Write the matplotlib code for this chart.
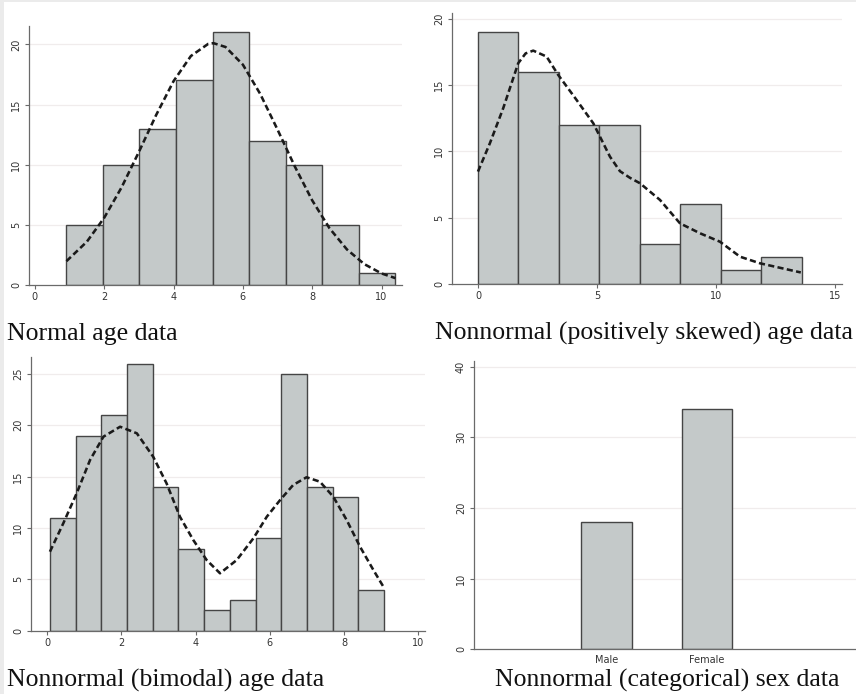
import matplotlib
matplotlib.use('Agg')
import matplotlib.pyplot as plt
import numpy as np
from matplotlib.patches import Rectangle

# ---------------- data ----------------
# Panel 1: normal age data
normal_edges = [0.91, 1.97, 3.01, 4.07, 5.13, 6.18, 7.23, 8.29, 9.35, 10.40]
normal_counts = [5, 10, 13, 17, 21, 12, 10, 5, 1]
normal_curve_x = [0.91, 1.5, 2.0, 2.5, 3.0, 3.5, 4.0, 4.5, 5.0, 5.15, 5.5, 6.0, 6.5,
                  7.0, 7.5, 8.0, 8.5, 9.0, 9.5, 10.0, 10.4]
normal_curve_y = [1.98, 3.6, 5.59, 8.11, 11.06, 14.14, 16.94, 19.03, 20.04, 20.1, 19.78,
                  18.31, 15.88, 12.91, 9.84, 7.03, 4.71, 2.96, 1.74, 0.96, 0.57]

# Panel 2: positively skewed age data
skew_edges = [0.0, 1.70, 3.40, 5.10, 6.80, 8.49, 10.19, 11.89, 13.59]
skew_counts = [19, 16, 12, 12, 3, 6, 1, 2]
skew_curve_x = [0.0, 0.5, 1.06, 1.69, 2.0, 2.32, 2.88, 3.37, 4.14, 4.84, 5.54, 5.96,
                6.38, 6.80, 7.64, 8.48, 9.32, 10.16, 11.0, 11.84, 13.55]
skew_curve_y = [8.47, 10.61, 13.26, 16.66, 17.4, 17.61, 17.16, 15.77, 13.88, 12.12, 9.6,
                8.5, 8.0, 7.59, 6.33, 4.56, 3.81, 3.17, 2.04, 1.54, 0.85]

# Panel 3: bimodal age data
bimodal_edges = [0.08, 0.77, 1.46, 2.16, 2.85, 3.54, 4.23, 4.92, 5.62, 6.31, 7.00,
                 7.69, 8.38, 9.08]
bimodal_counts = [11, 19, 21, 26, 14, 8, 2, 3, 9, 25, 14, 13, 4]
bimodal_curve_x = [0.08, 0.44, 0.80, 1.16, 1.52, 1.97, 2.42, 2.86, 3.22, 3.58, 3.94,
                   4.30, 4.66, 5.11, 5.56, 5.92, 6.28, 6.63, 6.99, 7.35, 7.71, 8.07,
                   8.43, 8.79, 9.06]
bimodal_curve_y = [7.69, 10.46, 13.38, 16.62, 18.89, 19.86, 19.22, 16.94, 14.35, 11.10,
                   8.83, 6.88, 5.59, 6.88, 9.0, 11.1, 12.73, 14.19, 14.94, 14.51, 13.05,
                   10.78, 8.18, 5.91, 4.28]

# Panel 4: categorical sex data
sex_categories = ['Male', 'Female']
sex_counts = [18, 34]

titles = ['Normal age data', 'Nonnormal (positively skewed) age data',
          'Nonnormal (bimodal) age data', 'Nonnormal (categorical) sex data']

# ---------------- style ----------------
W, H = 856, 694
BAR_FC = '#c4c9c9'
BAR_EC = '#454545'
AX_C = '#6a6a6a'
GRID_C = '#f0ecec'
TXT_C = '#333333'

fig = plt.figure(figsize=(W / 100, H / 100), dpi=100)
fig.patch.set_facecolor('white')
fig.patches.append(Rectangle((0, 0), 4 / W, 1, transform=fig.transFigure,
                             facecolor='#ebebeb', edgecolor='none', zorder=0))
fig.patches.append(Rectangle((0, 1 - 2 / H), 1, 2 / H, transform=fig.transFigure,
                             facecolor='#ebebeb', edgecolor='none', zorder=0))


def add_ax(l, t, r, b):
    return fig.add_axes([l / W, 1 - b / H, (r - l) / W, (b - t) / H])


def style(ax, xlim, ylim, yticks, xticks=None):
    ax.set_xlim(*xlim)
    ax.set_ylim(*ylim)
    for s in ['top', 'right']:
        ax.spines[s].set_visible(False)
    for s in ['left', 'bottom']:
        ax.spines[s].set_color(AX_C)
        ax.spines[s].set_linewidth(0.9)
    ax.set_yticks(yticks)
    ax.set_yticklabels([str(v) for v in yticks], rotation=90, va='center')
    if xticks is not None:
        ax.set_xticks(xticks)
        ax.set_xticklabels([str(v) for v in xticks])
    ax.tick_params(axis='both', length=3, width=0.8, color=AX_C, labelsize=7,
                   labelcolor=TXT_C)
    ax.tick_params(axis='y', pad=2.5)
    ax.tick_params(axis='x', pad=2)
    for v in yticks:
        if v > 0:
            ax.axhline(v, color=GRID_C, lw=0.9, zorder=0)
    ax.set_facecolor('none')


def hist(ax, edges, counts):
    edges = np.asarray(edges)
    ax.bar(edges[:-1], counts, width=np.diff(edges), align='edge',
           facecolor=BAR_FC, edgecolor=BAR_EC, linewidth=1.0, zorder=2)


def curve(ax, x, y):
    ax.plot(x, y, color='#1a1a1a', lw=1.85, dashes=(2.4, 1.3), zorder=3,
            dash_capstyle='butt', dash_joinstyle='round')


# Panel 1
ax1 = add_ax(29, 25.7, 402, 285)
style(ax1, (-0.17, 10.59), (0, 21.55), [0, 5, 10, 15, 20], [0, 2, 4, 6, 8, 10])
hist(ax1, normal_edges, normal_counts)
curve(ax1, normal_curve_x, normal_curve_y)

# Panel 2
ax2 = add_ax(452, 13.3, 842, 283.7)
style(ax2, (-1.09, 15.28), (0, 20.43), [0, 5, 10, 15, 20], [0, 5, 10, 15])
hist(ax2, skew_edges, skew_counts)
curve(ax2, skew_curve_x, skew_curve_y)

# Panel 3
ax3 = add_ax(31, 357, 425, 630.7)
style(ax3, (-0.43, 10.18), (0, 26.65), [0, 5, 10, 15, 20, 25], [0, 2, 4, 6, 8, 10])
hist(ax3, bimodal_edges, bimodal_counts)
curve(ax3, bimodal_curve_x, bimodal_curve_y)

# Panel 4
ax4 = add_ax(473.7, 361, 856, 649.3)
style(ax4, (-0.32, 3.48), (0, 40.8), [0, 10, 20, 30, 40])
pos = np.arange(1, len(sex_categories) + 1)
ax4.bar(pos, sex_counts, width=0.5, facecolor=BAR_FC, edgecolor=BAR_EC,
        linewidth=1.0, zorder=2)
ax4.set_xticks(pos)
ax4.set_xticklabels(sex_categories)
ax4.tick_params(axis='x', length=0, pad=4)

# Titles
title_pos = [(7, 340), (435, 340), (7, 687), (495, 687)]
for (x, y), t in zip(title_pos, titles):
    fig.text(x / W, 1 - y / H, t, fontfamily='Liberation Serif', fontsize=18.5,
             va='baseline', ha='left', color='#111111')

fig.savefig('out.png', dpi=100)
